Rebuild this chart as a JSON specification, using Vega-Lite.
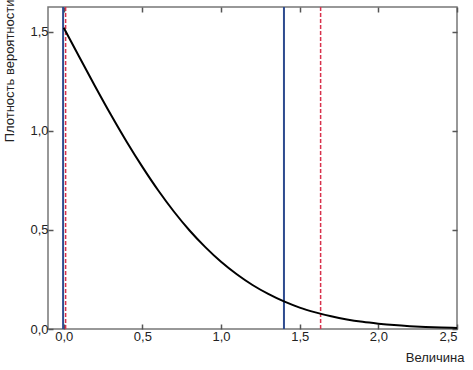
{
  "$schema": "https://vega.github.io/schema/vega-lite/v6.json",
  "width": 409,
  "height": 322,
  "autosize": {"type": "none"},
  "padding": {"left": 48, "top": 7, "right": 16, "bottom": 41},
  "background": "white",
  "config": {
    "font": "Liberation Sans",
    "view": {"stroke": "#777777", "strokeWidth": 1.5},
    "axis": {
      "grid": false,
      "domain": false,
      "ticks": true,
      "tickColor": "#555555",
      "tickWidth": 1.5,
      "tickSize": 5,
      "offset": -5,
      "labelFont": "Liberation Sans",
      "labelFontSize": 13,
      "labelColor": "#222222",
      "titleFont": "Liberation Sans",
      "titleFontSize": 13,
      "titleFontWeight": "normal",
      "titleColor": "#222222"
    }
  },
  "resolve": {"axis": {"x": "independent", "y": "independent"}},
  "datasets": {
    "curve": [
      {"x": 0.0, "y": 1.52},
      {"x": 0.1, "y": 1.371},
      {"x": 0.2, "y": 1.224},
      {"x": 0.3, "y": 1.081},
      {"x": 0.4, "y": 0.945},
      {"x": 0.5, "y": 0.818},
      {"x": 0.6, "y": 0.7},
      {"x": 0.7, "y": 0.593},
      {"x": 0.8, "y": 0.497},
      {"x": 0.9, "y": 0.413},
      {"x": 1.0, "y": 0.339},
      {"x": 1.1, "y": 0.276},
      {"x": 1.2, "y": 0.222},
      {"x": 1.3, "y": 0.177},
      {"x": 1.4, "y": 0.139},
      {"x": 1.5, "y": 0.108},
      {"x": 1.6, "y": 0.084},
      {"x": 1.7, "y": 0.064},
      {"x": 1.8, "y": 0.048},
      {"x": 1.9, "y": 0.036},
      {"x": 2.0, "y": 0.027},
      {"x": 2.1, "y": 0.0196},
      {"x": 2.2, "y": 0.0142},
      {"x": 2.3, "y": 0.0102},
      {"x": 2.4, "y": 0.0072},
      {"x": 2.5, "y": 0.0051}
    ],
    "rules": [
      {"x": -0.004, "kind": "blue"},
      {"x": 1.40, "kind": "blue"},
      {"x": 0.012, "kind": "red"},
      {"x": 1.633, "kind": "red"}
    ]
  },
  "layer": [
    {
      "data": {"name": "curve"},
      "mark": {"type": "point", "opacity": 0},
      "encoding": {
        "x": {
          "field": "x", "type": "quantitative",
          "scale": {"domain": [-0.1, 2.5], "nice": false, "zero": false},
          "axis": {"orient": "top", "labels": false, "title": null, "values": [0, 0.5, 1, 1.5, 2, 2.5], "ticks": true, "tickSize": 5, "offset": -5}
        },
        "y": {
          "field": "y", "type": "quantitative",
          "scale": {"domain": [0, 1.625], "nice": false},
          "axis": {"orient": "right", "labels": false, "title": null, "values": [0, 0.5, 1, 1.5], "ticks": true, "tickSize": 5, "offset": -5}
        }
      }
    },
    {
      "data": {"name": "rules"},
      "transform": [{"filter": "datum.kind == 'blue'"}],
      "mark": {"type": "rule", "color": "#2e4b8f", "strokeWidth": 2},
      "encoding": {
        "x": {"field": "x", "type": "quantitative", "axis": null}
      }
    },
    {
      "data": {"name": "rules"},
      "transform": [{"filter": "datum.kind == 'red'"}],
      "mark": {"type": "rule", "color": "#d8314c", "strokeWidth": 1.5, "strokeDash": [4, 2]},
      "encoding": {
        "x": {"field": "x", "type": "quantitative", "axis": null}
      }
    },
    {
      "data": {"name": "curve"},
      "mark": {"type": "line", "color": "#000000", "strokeWidth": 2, "interpolate": "monotone"},
      "encoding": {
        "x": {
          "field": "x", "type": "quantitative",
          "axis": {
            "orient": "bottom",
            "title": "Величина",
            "values": [0, 0.5, 1, 1.5, 2, 2.5],
            "labelExpr": "replace(format(datum.value, '.1f'), '.', ',')",
            "ticks": true,
            "tickSize": 5,
            "offset": -5,
            "labelPadding": 1,
            "titleAnchor": "end",
            "titleAlign": "right",
            "titleBaseline": "alphabetic",
            "titleX": 416,
            "titleY": 37
          }
        },
        "y": {
          "field": "y", "type": "quantitative",
          "axis": {
            "orient": "left",
            "title": "Плотность вероятности",
            "values": [0, 0.5, 1, 1.5],
            "labelExpr": "replace(format(datum.value, '.1f'), '.', ',')",
            "ticks": true,
            "tickSize": 5,
            "offset": -5,
            "labelPadding": 0,
            "titleAngle": -90,
            "titleAlign": "right",
            "titleBaseline": "middle",
            "titleX": -44,
            "titleY": -8
          }
        }
      }
    }
  ]
}
